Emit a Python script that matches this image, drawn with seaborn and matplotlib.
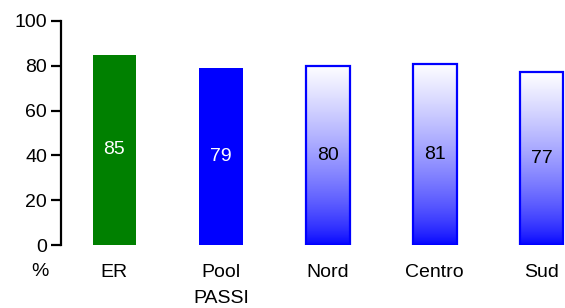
import numpy as np
import pandas as pd
import matplotlib
matplotlib.use("Agg")
import matplotlib.pyplot as plt
import seaborn as sns
from matplotlib.colors import ListedColormap

categories = ["ER", "Pool\nPASSI", "Nord", "Centro", "Sud"]
values = [85, 79, 80, 81, 77]
bar_colors = ["#008000", "#0000ff", "#ffffff", "#ffffff", "#ffffff"]
label_colors = ["white", "white", "black", "black", "black"]
gradient = [False, False, True, True, True]

sns.set_style("white")
plt.rcParams["font.family"] = ["Liberation Sans", "DejaVu Sans"]
plt.rcParams["text.color"] = "black"
plt.rcParams["xtick.color"] = "black"
plt.rcParams["ytick.color"] = "black"

df = pd.DataFrame({"area": categories, "pct": values})

fig = plt.figure(figsize=(5.65, 3.08), dpi=100)
ax = fig.add_axes([0.108, 0.2045, 0.892, 0.7275])

sns.barplot(data=df, x="area", y="pct", ax=ax, width=0.41,
            palette=bar_colors, hue="area", legend=False, saturation=1)

# white at the top fading into blue at the bottom
t = np.linspace(0, 1, 256) ** 0.7
cmap = ListedColormap(np.column_stack([t, t, np.ones_like(t)]))
grad = np.linspace(0, 1, 256).reshape(-1, 1)
for patch, g in zip(ax.patches, gradient):
    patch.set_linewidth(0)
    if g:
        x0, y0 = patch.get_x(), patch.get_y()
        w, h = patch.get_width(), patch.get_height()
        im = ax.imshow(grad, cmap=cmap, origin="lower", aspect="auto",
                       extent=[x0, x0 + w, y0, y0 + h], zorder=2)
        im.set_clip_path(patch)
        patch.set_facecolor("none")
        patch.set_edgecolor("#0000ff")
        patch.set_linewidth(1.6)
        patch.set_zorder(3)

for i, (v, tc) in enumerate(zip(values, label_colors)):
    ax.text(i, v / 2, str(v), ha="center", va="center", fontsize=14,
            color=tc, zorder=4)

ax.set_xlim(-0.5, 4.22)
ax.set_ylim(0, 100)
ax.set_yticks(range(0, 101, 20))
ax.set_xlabel("")
ax.set_ylabel("")
sns.despine(ax=ax, bottom=True, right=True, top=True)
ax.spines["left"].set_linewidth(1.6)
ax.spines["left"].set_color("black")
ax.tick_params(axis="y", length=7, width=1.6, color="black", left=True,
               labelsize=14, pad=3)
ax.tick_params(axis="x", length=0, labelsize=14, pad=14)
for lab in ax.get_xticklabels():
    lab.set_verticalalignment("top")
    lab.set_linespacing(1.65)

ax.text(-0.042, -0.118, "%", transform=ax.transAxes, ha="center", va="center",
        fontsize=14)

fig.savefig("out.png", dpi=100)
